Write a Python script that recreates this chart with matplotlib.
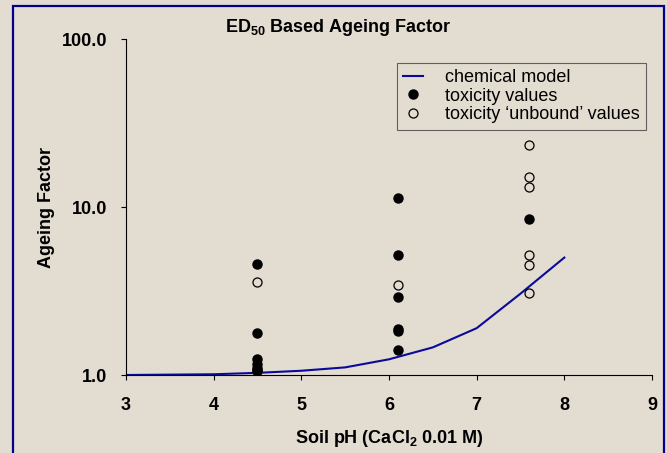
import matplotlib
matplotlib.use("Agg")
from matplotlib import pyplot as plt
from matplotlib.patches import Rectangle

# chemical model curve
ph_model = [3.0, 3.5, 4.0, 4.5, 5.0, 5.5, 6.0, 6.5, 7.0, 7.5, 8.0]
af_model = [1.0, 1.005, 1.01, 1.03, 1.06, 1.11, 1.24, 1.46, 1.90, 3.05, 5.0]

# toxicity values (filled)
ph_tox = [4.5, 4.5, 4.5, 4.5, 4.5, 4.5, 4.5, 6.1, 6.1, 6.1, 6.1, 6.1, 6.1, 7.6]
af_tox = [4.6, 1.78, 1.24, 1.16, 1.10, 1.07, 1.05, 11.3, 5.2, 2.91, 1.87, 1.83, 1.40, 8.49]

# toxicity 'unbound' values (open)
ph_unb = [4.5, 6.1, 7.6, 7.6, 7.6, 7.6, 7.6, 7.6]
af_unb = [3.59, 3.43, 23.4, 15.1, 13.1, 5.16, 4.49, 3.07]

x_ticks = [3, 4, 5, 6, 7, 8, 9]
y_ticks = [1, 10, 100]
y_labels = ["1.0", "10.0", "100.0"]

bg = "#e3dcd1"
fs = 13
plt.rcParams['font.family'] = ['Liberation Sans', 'DejaVu Sans']

fig = plt.figure(figsize=(6.67, 4.53), dpi=100, facecolor=bg)
ax = fig.add_axes([126 / 667, 1 - 375 / 453, (652 - 126) / 667, (375 - 39) / 453])
ax.set_facecolor(bg)

ax.plot(ph_model, af_model, color="#0a0a9a", lw=1.5, label="chemical model", zorder=2)
ax.plot(ph_tox, af_tox, "o", color="black", ms=6.5, label="toxicity values", zorder=3)
ax.plot(ph_unb, af_unb, "o", mfc="none", mec="black", mew=0.9, ms=6.5,
        label="toxicity \u2018unbound\u2019 values", zorder=3)

ax.set_yscale("log")
ax.set_xlim(3, 9)
ax.set_ylim(1, 100)
ax.set_xticks(x_ticks)
ax.set_yticks(y_ticks)
ax.set_yticklabels(y_labels)
ax.minorticks_off()
ax.tick_params(axis="both", direction="out", length=3.6, width=0.8, labelsize=fs)
ax.tick_params(axis="y", pad=10)
ax.tick_params(axis="x", pad=12)
for lab in ax.get_xticklabels() + ax.get_yticklabels():
    lab.set_fontweight("bold")
for s in ["top", "right"]:
    ax.spines[s].set_visible(False)

ax.set_xlabel("Soil pH (CaCl$_\\mathregular{2}$ 0.01 M)", fontsize=fs, fontweight="bold", labelpad=10)
ax.set_ylabel("Ageing Factor", fontsize=fs, fontweight="bold", labelpad=5)
fig.text(338 / 667, 1 - 27 / 453, "ED$_\\mathregular{50}$ Based Ageing Factor",
         ha="center", va="center", fontsize=fs, fontweight="bold")

leg = ax.legend(loc="upper right", bbox_to_anchor=(646 / 667, 1 - 63 / 453),
                bbox_transform=fig.transFigure, frameon=True, fancybox=False,
                fontsize=fs, handlelength=1.1, handletextpad=1.2,
                borderpad=0.35, labelspacing=0.08, borderaxespad=0)
leg.get_frame().set_facecolor("none")
leg.get_frame().set_edgecolor("#404040")
leg.get_frame().set_linewidth(0.8)

fig.patches.append(Rectangle((13 / 667, -0.02), (664 - 13) / 667, 1.02 - 6 / 453,
                             transform=fig.transFigure, fill=False,
                             edgecolor="#00008b", lw=1.6))

fig.savefig("out.png", dpi=100, facecolor=bg)
